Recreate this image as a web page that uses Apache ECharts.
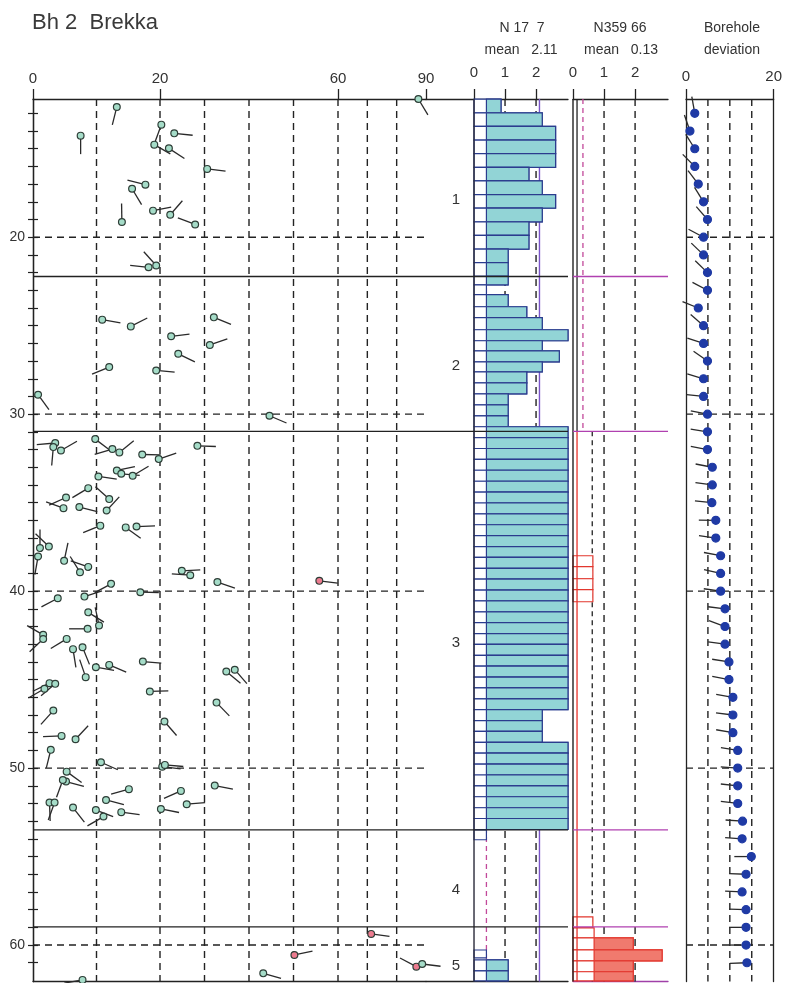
<!DOCTYPE html>
<html><head><meta charset="utf-8">
<script src="https://cdn.jsdelivr.net/npm/echarts@6/dist/echarts.min.js"></script>
<style>html,body{margin:0;padding:0;background:#fff}#c{width:785px;height:983px}</style>
</head><body><div id="c"></div>
<script>
// ================= DATA =================
const titleText = 'Bh 2  Brekka';
const dipTicks = [0, 20, 60, 90];
const dipGridLines = [10, 20, 30, 40, 50, 60, 70, 80];
const dipBreaks = [0, 20, 60, 90];          // piecewise dip scale
const dipBreakPos = [0, 127, 305, 393];     // axis units at the breaks
const depthMin = 12.19, depthMax = 62.06;
const depthTicks = [13,14,15,16,17,18,19,20,21,22,23,24,25,26,27,28,29,30,31,32,33,34,35,36,37,38,39,40,41,42,43,44,45,46,47,48,49,50,51,52,53,54,55,56,57,58,59,60,61];
const depthLabels = [20, 30, 40, 50, 60];
const zoneBounds = [12.19, 22.22, 30.97, 53.49, 58.97, 62.06];
const zoneNames = ['1', '2', '3', '4', '5'];

// tadpoles (dip deg, depth m, dip azimuth deg, red set flag)
const tadDip   = [13.2,7.5,20.3,23.2,19.1,22.0,30.6,17.7,15.6,14.0,18.9,22.3,27.9,18.2,19.4,87.4,
  10.9,15.4,32.1,22.5,31.2,24.1,12.0,19.4,0.8,44.6,
  3.5,3.2,4.4,9.8,12.5,13.6,17.2,19.8,28.4,13.2,13.9,15.7,10.3,8.7,5.2,4.8,12.0,11.6,7.3,10.6,14.6,16.3,2.5,1.1,0.8,4.9,7.4,8.7,24.9,26.8,32.9,55.8,3.9,8.1,12.3,16.9,8.7,8.6,10.4,
  1.6,1.6,5.3,6.3,7.8,8.3,9.9,12.0,17.3,2.6,3.5,1.8,18.4,34.9,36.8,32.7,3.2,21.0,4.5,6.7,2.8,10.7,20.5,21.1,5.3,5.2,4.7,32.3,15.1,24.7,11.5,2.6,3.4,26.0,6.3,9.9,11.1,13.9,20.2,
  7.8,43.2,50.2,71.3,86.7,88.7];
const tadDepth = [12.64,14.26,13.64,14.13,14.77,14.98,16.14,17.03,17.26,19.14,18.50,18.73,19.28,21.70,21.60,12.19,
  24.66,25.04,24.53,25.60,26.09,26.59,27.34,27.53,28.90,30.09,
  31.63,31.86,32.05,31.41,31.97,32.16,32.28,32.54,31.79,33.18,33.37,33.48,33.52,34.18,34.71,35.31,34.80,35.44,35.25,36.30,36.40,36.35,37.48,37.57,38.04,38.29,38.93,38.63,38.85,39.10,39.49,39.42,40.40,40.31,39.59,40.06,41.20,42.13,41.94,
  42.47,42.71,42.70,43.28,43.17,44.86,44.30,44.17,43.98,45.20,45.24,45.52,45.67,44.54,44.44,46.30,46.75,47.37,48.18,48.37,48.97,49.67,49.92,49.82,50.20,50.76,50.67,50.99,51.19,51.29,51.80,51.95,51.95,52.04,52.23,52.37,52.74,52.49,52.31,
  61.97,61.60,60.56,59.37,61.22,61.07];
const tadAzimuth = [194,180,200,96,120,123,97,284,149,359,79,41,291,276,318,149,
  100,63,112,83,71,116,248,95,144,113,
  265,185,60,127,253,51,91,71,92,78,95,59,98,239,246,290,312,43,104,248,126,88,314,0,190,12,328,289,87,274,109,97,242,72,242,91,122,270,348,
  300,227,239,171,158,341,100,113,95,244,230,240,88,130,139,136,222,139,268,43,194,114,97,95,126,105,200,101,254,246,105,178,200,85,142,111,240,98,101,
  260,106,78,98,298,97];
const tadRed = [0,0,0,0,0,0,0,0,0,0,0,0,0,0,0,0,
  0,0,0,0,0,0,0,0,0,0,
  0,0,0,0,0,0,0,0,0,0,0,0,0,0,0,0,0,0,0,0,0,0,0,0,0,0,0,0,0,0,0,1,0,0,0,0,0,0,0,
  0,0,0,0,0,0,0,0,0,0,0,0,0,0,0,0,0,0,0,0,0,0,0,0,0,0,0,0,0,0,0,0,0,0,0,0,0,0,0,
  0,0,1,1,1,0];

// histogram N 17 7
const n17Header = ['N 17  7', 'mean   2.11'];
const n17Mean = 2.11, n17Ref = 0.4;
const n17Ticks = [0, 1, 2];
const n17Top = [12.20,12.97,13.74,14.51,15.28,16.05,16.82,17.59,18.36,19.13,19.90,20.67,21.44,22.21,22.69,
  23.25,23.93,24.55,25.23,25.85,26.42,27.04,27.61,28.23,28.85,29.47,30.10,
  30.71,31.33,31.94,32.56,33.17,33.79,34.40,35.02,35.63,36.25,36.86,37.48,38.09,38.71,39.32,39.94,40.55,41.17,41.78,42.40,43.01,43.63,44.24,44.86,45.47,46.09,46.70,47.32,47.93,48.55,49.16,49.78,50.39,51.01,51.62,52.24,52.85,
  53.49,60.28,60.84,61.46];
const n17Bottom = [12.97,13.74,14.51,15.28,16.05,16.82,17.59,18.36,19.13,19.90,20.67,21.44,22.21,22.69,23.25,
  23.93,24.55,25.23,25.85,26.42,27.04,27.61,28.23,28.85,29.47,30.10,30.71,
  31.33,31.94,32.56,33.17,33.79,34.40,35.02,35.63,36.25,36.86,37.48,38.09,38.71,39.32,39.94,40.55,41.17,41.78,42.40,43.01,43.63,44.24,44.86,45.47,46.09,46.70,47.32,47.93,48.55,49.16,49.78,50.39,51.01,51.62,52.24,52.85,53.47,
  54.05,60.73,61.46,62.02];
const n17Value = [0.87,2.2,2.63,2.63,2.63,1.77,2.2,2.63,2.2,1.77,1.77,1.1,1.1,1.1,0.4,
  1.1,1.7,2.2,3.03,2.2,2.75,2.2,1.7,1.7,1.1,1.1,1.1,
  3.03,3.03,3.03,3.03,3.03,3.03,3.03,3.03,3.03,3.03,3.03,3.03,3.03,3.03,3.03,3.03,3.03,3.03,3.03,3.03,3.03,3.03,3.03,3.03,3.03,3.03,2.2,2.2,2.2,3.03,3.03,3.03,3.03,3.03,3.03,3.03,3.03,
  0.4,0.4,1.1,1.1];

// histogram N359 66
const n359Header = ['N359 66', 'mean   0.13'];
const n359Mean = 0.13, n359Ref = 0.68;
const n359Ticks = [0, 1, 2];
const n359Top    = [38.00,38.62,39.30,39.92,58.41,59.03,59.59,60.27,60.89,61.51];
const n359Bottom = [38.62,39.30,39.92,40.60,59.03,59.59,60.27,60.89,61.51,62.02];
const n359Value  = [0.64,0.64,0.64,0.64,0.64,0.68,1.94,2.87,1.94,1.94];

// borehole deviation
const devHeader = ['Borehole', 'deviation'];
const devTicks = [0, 20];
const devGridLines = [5, 10, 15];
const devDepth = [13,14,15,16,17,18,19,20,21,22,23,24,25,26,27,28,29,30,31,32,33,34,35,36,37,38,39,40,41,42,43,44,45,46,47,48,49,50,51,52,53,54,55,56,57,58,59,60,61];
const devOffset = [2.0,0.9,2.0,2.0,2.8,4.0,4.9,4.0,4.0,4.9, 4.9,2.8,4.0,4.0,4.9,4.0,4.0,4.9,
  4.9,4.9,6.0,6.0,5.9,6.8,6.8,7.9,7.9,7.9,8.9,8.9, 8.9,9.8,9.8,10.7,10.7,10.7,11.8,11.8,11.8,11.8,12.9,
  12.8,14.9,13.7,12.8,13.7,13.7,13.7,13.9];
const devAzimuth = [350,341,328,315,323,328,319,298,314,314, 298,292,311,288,305,287,276,281,
  279,281,281,278,276,271,278,281,283,278,277,290, 278,279,281,280,277,280,279,274,276,277,274,
  274,270,272,273,272,270,270,268];

// ================= HELPERS =================
function dipToAxis(d) {
  for (let i = 1; i < dipBreaks.length; i++) {
    if (d <= dipBreaks[i]) {
      const t = (d - dipBreaks[i-1]) / (dipBreaks[i] - dipBreaks[i-1]);
      return dipBreakPos[i-1] + t * (dipBreakPos[i] - dipBreakPos[i-1]);
    }
  }
  return dipBreakPos[dipBreakPos.length - 1];
}
const FONT = '"Liberation Sans", Arial, sans-serif';
const INK = '#222';
const X0MAX = dipToAxis(90);
const N17MIN = -1.548, N17MAX = 3.03, N359MAX = 3.06;

function segSeries(gi, rows, color, dash, width, z) {
  return {
    type: 'custom', xAxisIndex: gi, yAxisIndex: gi, z: z, silent: true, animation: false,
    data: rows, encode: { x: [0, 2], y: [1, 3] },
    renderItem: function (params, api) {
      const a = api.coord([api.value(0), api.value(1)]);
      const b = api.coord([api.value(2), api.value(3)]);
      return { type: 'line', shape: { x1: a[0], y1: a[1], x2: b[0], y2: b[1] },
        style: { stroke: color, lineWidth: width, lineDash: dash || null } };
    }
  };
}
function vRows(xs, y1, y2) { return xs.map(x => [x, y1, x, y2]); }
function hRows(ys, x1, x2) { return ys.map(y => [x1, y, x2, y]); }

function histSeries(gi, tops, bots, vals, ref, fill, stroke, z) {
  return {
    type: 'custom', xAxisIndex: gi, yAxisIndex: gi, z: z, silent: true, animation: false,
    data: tops.map((t, i) => [t, bots[i], vals[i]]),
    encode: { x: 2, y: [0, 1] },
    renderItem: function (params, api) {
      const top = api.value(0), bot = api.value(1), v = api.value(2);
      const a = api.coord([0, top]), b = api.coord([v, bot]);
      const ch = [{ type: 'rect', shape: { x: a[0], y: a[1], width: b[0] - a[0], height: b[1] - a[1] },
        style: { fill: '#fff', stroke: stroke, lineWidth: 1.2 } }];
      if (v > ref + 0.02) {
        const c = api.coord([ref, top]);
        ch.push({ type: 'rect', shape: { x: c[0], y: c[1], width: b[0] - c[0], height: b[1] - c[1] },
          style: { fill: fill, stroke: stroke, lineWidth: 1.2 } });
      }
      return { type: 'group', children: ch };
    }
  };
}

function tadSeries(gi, rows, tail, r, z, colorFn, stroke) {
  return {
    type: 'custom', xAxisIndex: gi, yAxisIndex: gi, z: z, silent: true, animation: false,
    data: rows, encode: { x: 0, y: 1 },
    renderItem: function (params, api) {
      const p = api.coord([api.value(0), api.value(1)]);
      const az = api.value(2) * Math.PI / 180;
      const ex = p[0] + tail * Math.sin(az), ey = p[1] - tail * Math.cos(az);
      const col = colorFn(api.value(3));
      return { type: 'group', children: [
        { type: 'line', shape: { x1: p[0], y1: p[1], x2: ex, y2: ey }, style: { stroke: '#2a2a2a', lineWidth: 1.3 } },
        { type: 'circle', shape: { cx: p[0], cy: p[1], r: r }, style: { fill: col, stroke: stroke, lineWidth: 1.2 } }
      ] };
    }
  };
}

function depthAxis(gi, pos, showLine, ticks, labels) {
  return {
    gridIndex: gi, type: 'value', inverse: true, min: depthMin, max: depthMax, position: pos,
    axisLine: { show: showLine, lineStyle: { color: INK, width: 1.3 } },
    axisTick: { show: ticks, customValues: depthTicks, length: 5, lineStyle: { color: INK, width: 1.2 } },
    axisLabel: { show: labels, customValues: depthLabels, margin: 8, fontSize: 14, color: '#333', fontFamily: FONT,
      verticalAlign: 'middle', padding: [0, 0, 9, 0] },
    splitLine: { show: false }
  };
}
function topAxis(gi, min, max, tickVals, fmt, margin, fs) {
  return {
    gridIndex: gi, type: 'value', position: 'top', min: min, max: max,
    axisLine: { show: true, onZero: false, lineStyle: { color: INK, width: 1.3 } },
    axisTick: { show: true, customValues: tickVals, length: 10, lineStyle: { color: INK, width: 1.3 } },
    axisLabel: { show: true, customValues: tickVals, formatter: fmt, margin: margin, fontSize: fs, color: '#333', fontFamily: FONT },
    splitLine: { show: false }
  };
}
function bottomAxis(gi, min, max, color) {
  return { gridIndex: gi, type: 'value', position: 'bottom', min: min, max: max,
    axisLine: { show: true, onZero: false, lineStyle: { color: color, width: 1.3 } },
    axisTick: { show: false }, axisLabel: { show: false }, splitLine: { show: false } };
}

// ================= OPTION =================
const dipTickPos = dipTicks.map(dipToAxis);
const zoneInner = zoneBounds.slice(1, zoneBounds.length - 1);
const tadRows = tadDip.map((d, i) => [dipToAxis(d), tadDepth[i], tadAzimuth[i], tadRed[i]]);
const devRows = devDepth.map((d, i) => [devOffset[i], d, devAzimuth[i], 0]);
const zoneLabelRows = zoneNames.map((n, i) => [-0.58, (zoneBounds[i] + zoneBounds[i + 1]) / 2, n]);
const zBreak = zoneBounds[2];

const option = {
  animation: false,
  backgroundColor: '#fff',
  grid: [
    { left: 33, top: 99, width: 393, height: 882.5 },
    { left: 426, top: 99, width: 142, height: 882.5 },
    { left: 573, top: 99, width: 95, height: 882.5 },
    { left: 686, top: 99, width: 89, height: 882.5 }
  ],
  xAxis: [
    topAxis(0, 0, X0MAX, dipTickPos, function (v) {
      let best = 0; dipTickPos.forEach((p, i) => { if (Math.abs(p - v) < Math.abs(dipTickPos[best] - v)) best = i; });
      return String(dipTicks[best]);
    }, 13, 15),
    topAxis(1, N17MIN, N17MAX, n17Ticks, v => String(Math.round(v)), 19, 15),
    topAxis(2, 0, N359MAX, n359Ticks, v => String(Math.round(v)), 19, 15),
    topAxis(3, 0, 20, devTicks, v => String(Math.round(v)), 15, 15),
    bottomAxis(0, 0, X0MAX, INK),
    bottomAxis(1, N17MIN, N17MAX, INK),
    bottomAxis(2, 0, N359MAX, '#a040a8')
  ],
  yAxis: [
    depthAxis(0, 'left', true, true, true),
    { gridIndex: 1, type: 'value', inverse: true, min: depthMin, max: depthMax, show: false },
    { gridIndex: 2, type: 'value', inverse: true, min: depthMin, max: depthMax, show: false },
    depthAxis(3, 'left', true, false, false),
    depthAxis(0, 'right', true, true, false),
    depthAxis(3, 'right', true, false, false)
  ],
  series: [
    // main panel guides
    segSeries(0, vRows(dipGridLines.map(dipToAxis), depthMin, depthMax), INK, [7, 5], 1.4, 1),
    segSeries(0, hRows(depthLabels, 0, X0MAX), INK, [7, 5], 1.4, 1),
    segSeries(0, hRows(zoneInner, 0, X0MAX), INK, null, 1.3, 3),
    tadSeries(0, tadRows, 18.5, 3.4, 5, f => f ? '#ec7b8f' : '#a5dcc8', '#2d3d36'),
    // N 17 7 panel
    segSeries(1, vRows([n17Ref], depthMin, depthMax), '#c2499a', [5, 4], 1.3, 1),
    segSeries(1, vRows([1, 2], depthMin, depthMax), INK, [7, 5], 1.4, 1),
    segSeries(1, vRows([n17Mean], depthMin, depthMax), '#7a55c8', null, 1.4, 1),
    histSeries(1, n17Top, n17Bottom, n17Value, n17Ref, '#92d4d6', '#2b3c8e', 2),
    segSeries(1, vRows([0], depthMin, depthMax), '#2a2a3a', null, 1.4, 3),
    segSeries(1, hRows(zoneInner, N17MIN, N17MAX), INK, null, 1.3, 3),
    {
      type: 'custom', xAxisIndex: 1, yAxisIndex: 1, z: 4, silent: true, animation: false,
      data: zoneLabelRows, encode: { x: 0, y: 1 },
      renderItem: function (params, api) {
        const p = api.coord([api.value(0), api.value(1)]);
        return { type: 'text', x: p[0], y: p[1] + 12,
          style: { text: zoneNames[params.dataIndex], fill: '#333', font: '15px ' + FONT, align: 'center', verticalAlign: 'middle' } };
      }
    },
    // N359 66 panel
    segSeries(2, [[0.32, depthMin, 0.32, zBreak]], '#c2499a', [5, 4], 1.3, 1),
    segSeries(2, [[0.62, zBreak, 0.62, depthMax]], INK, [5, 4], 1.3, 1),
    segSeries(2, vRows([1, 2], depthMin, depthMax), INK, [7, 5], 1.4, 1),
    histSeries(2, n359Top, n359Bottom, n359Value, n359Ref, '#f07a6e', '#e2372e', 2),
    segSeries(2, vRows([0], depthMin, depthMax), INK, null, 1.4, 3),
    segSeries(2, [[n359Mean, depthMin, n359Mean, zBreak]], INK, null, 1.3, 3),
    segSeries(2, [[n359Mean, zBreak, n359Mean, depthMax]], '#e8322a', null, 1.3, 3),
    segSeries(2, hRows(zoneInner, 0, N359MAX), '#b040b0', null, 1.3, 3),
    // borehole deviation panel
    segSeries(3, vRows(devGridLines, depthMin, depthMax), INK, [7, 5], 1.4, 1),
    segSeries(3, hRows(depthLabels, 0, 20), INK, [7, 5], 1.4, 1),
    tadSeries(3, devRows, 17, 4, 5, () => '#1f3aa5', '#1f3aa5')
  ],
  graphic: [
    { type: 'text', x: 32, y: 23, style: { text: titleText, font: '22px ' + FONT, fill: '#3a3a3a', align: 'left', verticalAlign: 'middle' } },
    { type: 'text', x: 522, y: 28, style: { text: n17Header[0], font: '14px ' + FONT, fill: '#333', align: 'center', verticalAlign: 'middle' } },
    { type: 'text', x: 521, y: 50, style: { text: n17Header[1], font: '14px ' + FONT, fill: '#333', align: 'center', verticalAlign: 'middle' } },
    { type: 'text', x: 620, y: 28, style: { text: n359Header[0], font: '14px ' + FONT, fill: '#333', align: 'center', verticalAlign: 'middle' } },
    { type: 'text', x: 621, y: 50, style: { text: n359Header[1], font: '14px ' + FONT, fill: '#333', align: 'center', verticalAlign: 'middle' } },
    { type: 'text', x: 732, y: 28, style: { text: devHeader[0], font: '14px ' + FONT, fill: '#333', align: 'center', verticalAlign: 'middle' } },
    { type: 'text', x: 732, y: 50, style: { text: devHeader[1], font: '14px ' + FONT, fill: '#333', align: 'center', verticalAlign: 'middle' } }
  ]
};
const chart = echarts.init(document.getElementById('c'), null, { renderer: 'canvas' });
chart.setOption(option);
</script>
</body></html>
